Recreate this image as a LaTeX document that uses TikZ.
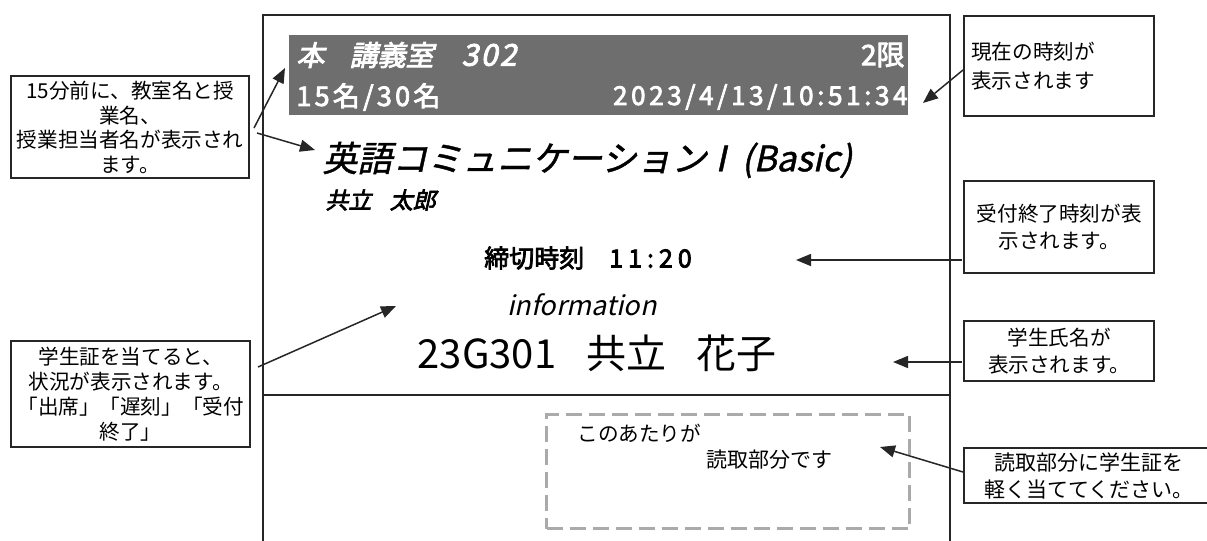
\documentclass[tikz,border=0pt]{standalone}
\usepackage{fontspec}
\setmainfont{Noto Sans CJK JP}
\newfontfamily\jp{Noto Sans CJK JP}
\newfontfamily\jpm[FakeBold=1.2]{Noto Sans CJK JP}
\newfontfamily\jpb[FakeBold=3]{Noto Sans CJK JP}
\newfontfamily\jpi[FakeSlant=0.22]{Noto Sans CJK JP}
\newfontfamily\jpmi[FakeSlant=0.22,FakeBold=1.2]{Noto Sans CJK JP}
\newfontfamily\jpbi[FakeSlant=0.22,FakeBold=3]{Noto Sans CJK JP}
\usetikzlibrary{arrows.meta}
\definecolor{barfill}{RGB}{110,110,110}
\definecolor{zonegray}{RGB}{170,170,170}
\tikzset{
  frame/.style={line width=1pt, draw=black!85},
  callout/.style={draw=black!85, line width=1.2pt, inner sep=0pt, anchor=north west,
    align=center, font=\jp\fontsize{10.3}{12.3}\selectfont},
  txt/.style={inner sep=0pt},
  pointer/.style={line width=0.75pt, draw=black!85, -{Triangle[length=7.5pt,width=6pt]}},
}
\begin{document}
\begin{tikzpicture}[x=0.5pt,y=-0.5pt]
\useasboundingbox (0,0) rectangle (1207,541);
% device frame
\draw[frame] (263,541) -- (263,15) -- (950,15) -- (950,541);
\draw[frame] (263,395) -- (950,395);
% screen header bar
\node[fill=barfill, inner sep=0pt, anchor=north west, minimum width=309.5pt, minimum height=40pt] (bar) at (289,35) {};
\node[txt, anchor=west, text=white, font=\jpbi\fontsize{14}{14}\selectfont] (room) at (296,55) {本\hspace{0.9em}講義室\hspace{1em}{\fontsize{15}{15}\selectfont\addfontfeatures{LetterSpace=8}302}};
\node[txt, anchor=east, text=white, font=\jpb\fontsize{14}{14}\selectfont] (period) at (905,55) {2限};
\node[txt, anchor=west, text=white, font=\jpb\fontsize{13.5}{13}\selectfont\addfontfeatures{LetterSpace=12}] (count) at (296,97) {15名/30名};
\node[txt, anchor=east, text=white, font=\jpb\fontsize{13}{13}\selectfont\addfontfeatures{LetterSpace=14}] (clock) at (908,97) {2023/4/13/10:51:34};
% screen contents
\node[txt, anchor=west, font=\jpmi\fontsize{17.5}{19}\selectfont] (course) at (322,160) {英語コミュニケーション\hspace{-0.1em}Ⅰ\hspace{0.1em}(Basic)};
\node[txt, anchor=west, font=\jpbi\fontsize{11.5}{13}\selectfont] (teacher) at (325,200) {共立\hspace{0.8em}太郎};
\node[txt, font=\jpb\fontsize{12.5}{13}\selectfont] (deadline) at (588,258) {締切時刻\hspace{1em}{\addfontfeatures{LetterSpace=20}11:20}};
\node[txt, font=\jpi\fontsize{13.5}{14}\selectfont] (info) at (582,305) {information};
\node[txt, font=\jp\fontsize{20}{22}\selectfont] (student) at (597,353) {23G301\hspace{0.75em}共立\hspace{0.75em}花子};
% reader zone
\node[draw=zonegray, line width=1.5pt, dash pattern=on 8pt off 3.5pt, inner sep=0pt, anchor=north west,
  minimum width=181.5pt, minimum height=57pt] (zone) at (545,413) {};
\node[txt, anchor=west, font=\jp\fontsize{10.3}{12}\selectfont] (zone1) at (577,433) {このあたりが};
\node[txt, anchor=west, font=\jp\fontsize{10.5}{12}\selectfont] (zone2) at (706,460) {読取部分です};
% callouts
\node[callout, minimum width=119pt, minimum height=51pt, font=\jp\fontsize{10.3}{12.25}\selectfont] (lt) at (10,75)
  {15分前に、教室名と授\\業名、\\授業担当者名が表示され\\ます。};
\node[callout, minimum width=119.5pt, minimum height=53pt, font=\jp\fontsize{10.3}{12.35}\selectfont] (lb) at (10,340)
  {学生証を当てると、\\状況が表示されます。\\「出席」「遅刻」「受付\\終了」};
\node[callout, minimum width=95pt, minimum height=50pt, text width=88pt, inner xsep=3.5pt, align=left,
  font=\jp\fontsize{10.3}{14.5}\selectfont] (rt) at (963,15) {現在の時刻が\\表示されます};
\node[callout, minimum width=95pt, minimum height=46pt, font=\jp\fontsize{10.3}{13.5}\selectfont] (rm) at (963,180)
  {受付終了時刻が表\\示されます。};
\node[callout, minimum width=95pt, minimum height=30pt, font=\jp\fontsize{10.3}{13.5}\selectfont] (rn) at (963,320)
  {学生氏名が\\表示されます。};
\node[callout, minimum width=124.5pt, minimum height=27.5pt, font=\jp\fontsize{10.5}{13.5}\selectfont] (rb) at (963,447)
  {読取部分に学生証を\\軽く当ててください。};
% pointer coordinates
\coordinate (p1s) at (254,128);
\coordinate (p1e) at (285,68);
\coordinate (p2s) at (257,133);
\coordinate (p2e) at (315,150);
\coordinate (p3s) at (963,70);
\coordinate (p3e) at (923,103);
\coordinate (p4s) at (962,260);
\coordinate (p4e) at (796,260);
\coordinate (p5s) at (962,362);
\coordinate (p5e) at (893,362);
\coordinate (p6s) at (258,367);
\coordinate (p6e) at (396,306);
\coordinate (p7s) at (963,472);
\coordinate (p7e) at (880,447);
\draw[pointer] (p1s) -- (p1e);
\draw[pointer] (p2s) -- (p2e);
\draw[pointer] (p3s) -- (p3e);
\draw[pointer] (p4s) -- (p4e);
\draw[pointer] (p5s) -- (p5e);
\draw[pointer] (p6s) -- (p6e);
\draw[pointer] (p7s) -- (p7e);
\end{tikzpicture}
\end{document}
